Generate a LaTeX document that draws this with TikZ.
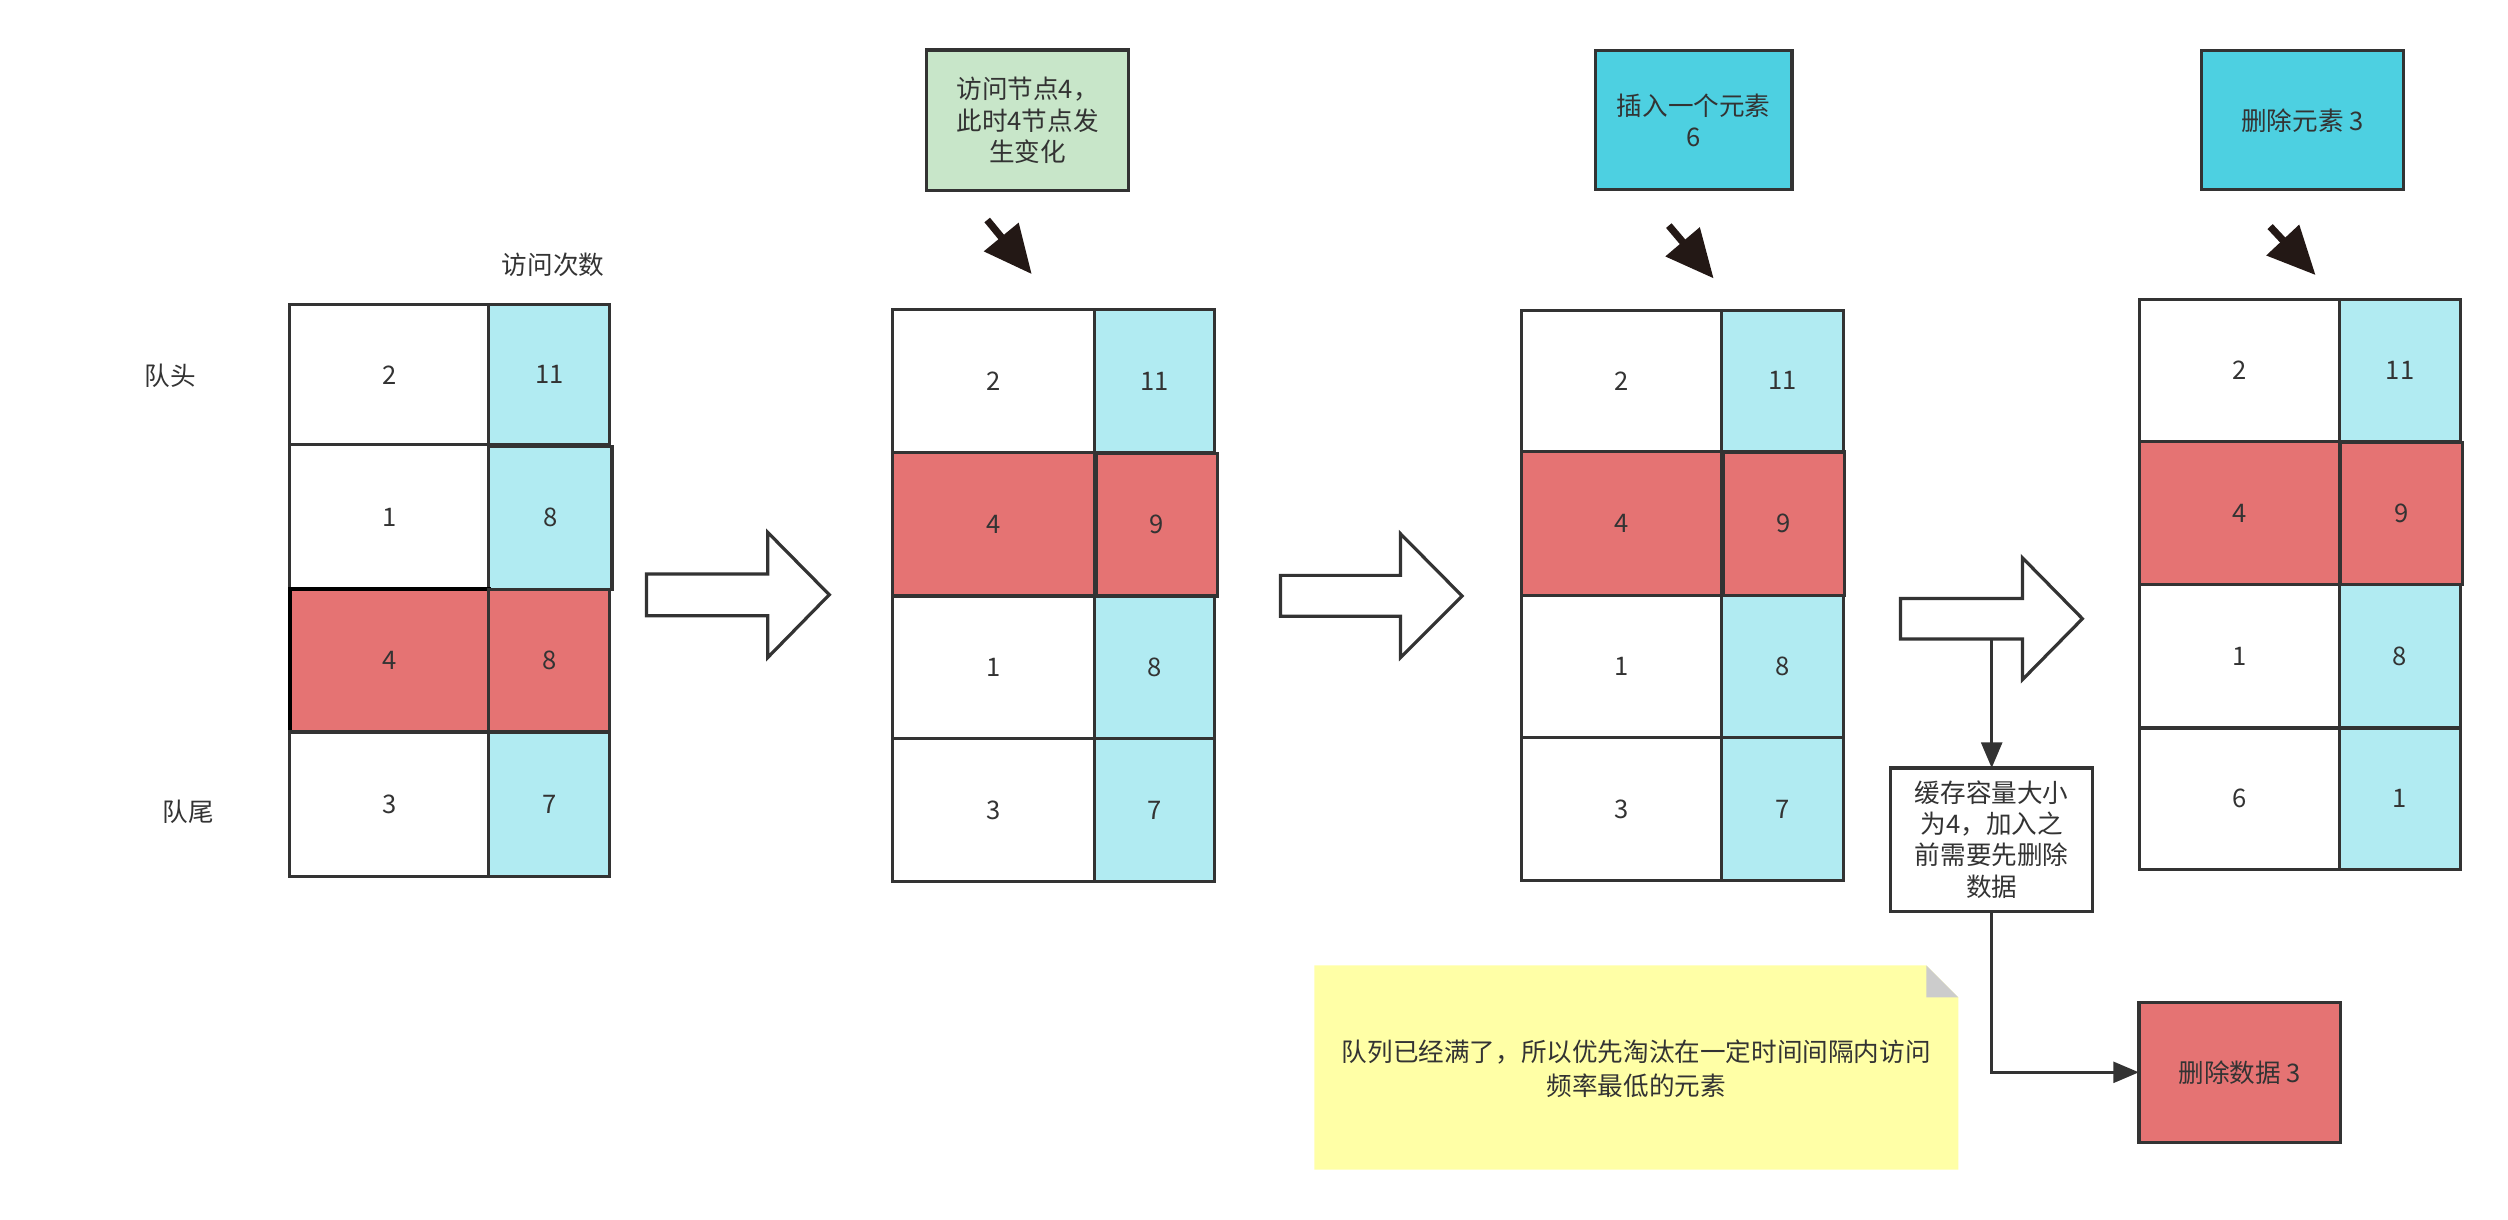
\documentclass[tikz,border=0pt]{standalone}
\usepackage{fontspec}
\setmainfont{Noto Sans CJK SC}
\usetikzlibrary{arrows.meta}
\definecolor{ink}{HTML}{333333}
\definecolor{cyanl}{HTML}{B1EBF2}
\definecolor{redc}{HTML}{E57373}
\definecolor{greenc}{HTML}{C8E6C9}
\definecolor{cyand}{HTML}{4DD0E1}
\definecolor{notey}{HTML}{FFFFA6}
\definecolor{foldg}{HTML}{CCCCCC}
\definecolor{blk}{HTML}{231815}
\newcommand\mycell[7]{\node[#6, minimum width={#4-#2}, minimum height={#5-#3}] (#1) at ({(#2+#4)/2},{(#3+#5)/2}) {#7};}
\tikzset{
  txt/.style={text=ink, font=\fontsize{16}{19.5}\selectfont, align=center, inner sep=0pt},
  base/.style={txt, draw=ink, line width=2pt, outer sep=0pt},
  wcell/.style={base, fill=white},
  ccell/.style={base, fill=cyanl},
  rcell/.style={base, fill=redc},
  gbox/.style={base, fill=greenc},
  cbox/.style={base, fill=cyand},
  hollow/.style={draw=ink, line width=2pt, fill=white, line join=miter},
  blackarrow/.style={draw=blk, line width=4.5pt, -{Triangle[length=30pt,width=27pt]}, blk},
  conn/.style={draw=ink, line width=2pt, -{Triangle[length=16pt,width=13pt]}, ink}
}
\begin{document}
\begin{tikzpicture}[x=1pt,y=-1pt]
\useasboundingbox (0,0) rectangle (1567.5,761.9);
\fill[white] (0,0) rectangle (1567.5,761.9);

% labels
\node[txt] (lcnt) at (345.7,165.6) {访问次数};
\node[txt] (lhead) at (106.6,234.9) {队头};
\node[txt] (ltail) at (117.5,507.6) {队尾};

% table 1
\mycell{a1}{181}{190.4}{305.5}{278}{wcell}{2}
\mycell{a2}{305.5}{190.4}{381}{278}{ccell}{11}
\mycell{a3}{181}{278}{305.5}{368.3}{wcell}{1}
\mycell{a4}{305.5}{279}{382.5}{368.3}{ccell}{8}
\mycell{a5}{181}{368.3}{305.5}{457.5}{rcell,draw=black,line width=2.6pt}{4}
\mycell{a6}{305.5}{368.3}{381}{457.5}{rcell}{8}
\mycell{a7}{181}{457.5}{305.5}{547.6}{wcell}{3}
\mycell{a8}{305.5}{457.5}{381}{547.6}{ccell}{7}

% table 2
\mycell{b1}{558}{193.3}{684}{283}{wcell}{2}
\mycell{b2}{684}{193.3}{759}{283}{ccell}{11}
\mycell{b3}{558}{283}{684}{372.5}{rcell}{4}
\mycell{b4}{685}{283.5}{761}{372.5}{rcell}{9}
\mycell{b5}{558}{372.5}{684}{461.6}{wcell}{1}
\mycell{b6}{684}{372.5}{759}{461.6}{ccell}{8}
\mycell{b7}{558}{461.6}{684}{551}{wcell}{3}
\mycell{b8}{684}{461.6}{759}{551}{ccell}{7}

% table 3
\mycell{c1}{951}{194}{1076}{282}{wcell}{2}
\mycell{c2}{1076}{194}{1152}{282}{ccell}{11}
\mycell{c3}{951}{282}{1076}{372}{rcell}{4}
\mycell{c4}{1077}{282.5}{1153}{372}{rcell}{9}
\mycell{c5}{951}{372}{1076}{461}{wcell}{1}
\mycell{c6}{1076}{372}{1152}{461}{ccell}{8}
\mycell{c7}{951}{461}{1076}{550.5}{wcell}{3}
\mycell{c8}{1076}{461}{1152}{550.5}{ccell}{7}

% table 4
\mycell{d1}{1337}{187}{1462}{276}{wcell}{2}
\mycell{d2}{1462}{187}{1538}{276}{ccell}{11}
\mycell{d3}{1337}{276}{1462}{365.2}{rcell}{4}
\mycell{d4}{1463}{276.5}{1539}{365.2}{rcell}{9}
\mycell{d5}{1337}{365.2}{1462}{455}{wcell}{1}
\mycell{d6}{1462}{365.2}{1538}{455}{ccell}{8}
\mycell{d7}{1337}{455}{1462}{543.4}{wcell}{6}
\mycell{d8}{1462}{455}{1538}{543.4}{ccell}{1}

% hollow arrows
\draw[hollow] (404,358.8) -- (479.8,358.8) -- (479.8,332.7) -- (518.3,371.7) -- (479.8,411) -- (479.8,384.9) -- (404,384.9) -- cycle;
\draw[hollow] (800.3,359.6) -- (875.3,359.6) -- (875.3,333.6) -- (913.8,372.5) -- (875.3,411) -- (875.3,385.2) -- (800.3,385.2) -- cycle;
\draw[hollow] (1187.8,374) -- (1264,374) -- (1264,348.6) -- (1301.5,386.7) -- (1264,424.8) -- (1264,399.4) -- (1187.8,399.4) -- cycle;
\coordinate (a3b) at (1244.8,399.4);

% top boxes
\mycell{g1}{579.2}{31.2}{705.2}{119.2}{gbox}{访问节点4，\\此时4节点发\\生变化}
\mycell{g2}{997.2}{31.7}{1120}{118.6}{cbox}{插入一个元素\\6}
\mycell{g3}{1376}{31.7}{1502}{118.6}{cbox}{删除元素 3}

% black arrows
\coordinate (p2t) at (617,137.5); \coordinate (p2h) at (644.8,171.3);
\coordinate (p3t) at (1043,141); \coordinate (p3h) at (1071,174);
\coordinate (p4t) at (1418.8,141.6); \coordinate (p4h) at (1447.2,171.9);
\draw[blackarrow] (p2t) -- (p2h);
\draw[blackarrow] (p3t) -- (p3h);
\draw[blackarrow] (p4t) -- (p4h);

% sticky note
\fill[notey] (821.5,603.4) -- (1204,603.4) -- (1224,623.4) -- (1224,731) -- (821.5,731) -- cycle;
\fill[foldg] (1204,603.4) -- (1224,623.4) -- (1204,623.4) -- cycle;
\node[txt, font=\fontsize{16}{21.5}\selectfont] (sticky) at (1022.7,668) {队列已经满了，所以优先淘汰在一定时间间隔内访问\\频率最低的元素};

% note box and delete box
\mycell{nb}{1181.7}{480}{1308}{569.5}{wcell}{缓存容量大小\\为4，加入之\\前需要先删除\\数据}
\mycell{del}{1336.8}{626.5}{1463}{713.9}{rcell}{删除数据 3}

\draw[conn] (a3b) -- (a3b |- nb.north);
\draw[conn] (nb.south) |- (del.west);
\end{tikzpicture}
\end{document}
